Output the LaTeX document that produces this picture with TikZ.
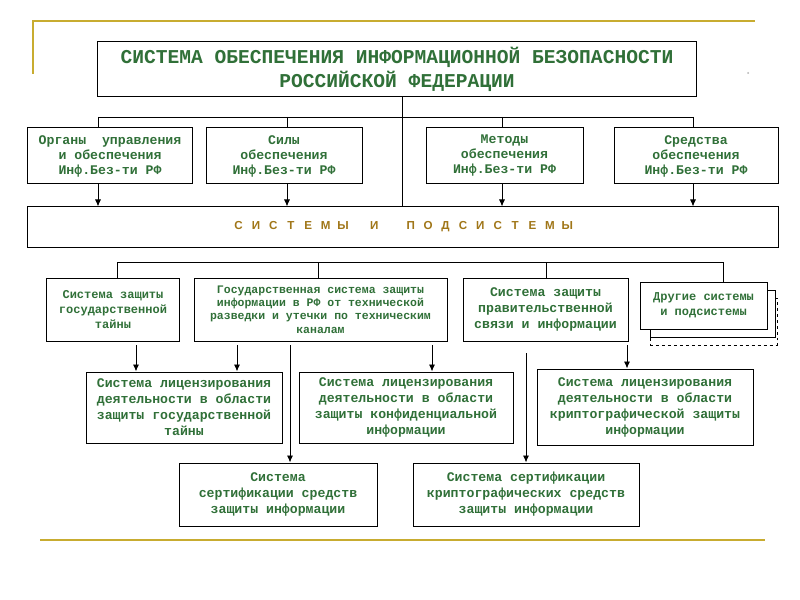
\documentclass[tikz,border=0pt]{standalone}
\usepackage{fontspec}
\setmonofont{Liberation Mono}
\setsansfont{Liberation Sans}
\usetikzlibrary{arrows.meta, positioning}
\definecolor{slideGold}{RGB}{200, 172, 48}
\definecolor{boxGreen}{RGB}{48, 112, 56}
\definecolor{sysBrown}{RGB}{160, 118, 24}
\def\titlefont{\ttfamily\bfseries\fontsize{19.6bp}{24bp}\selectfont}
\def\bodyfont{\ttfamily\bfseries\fontsize{13.2bp}{16bp}\selectfont}
\def\rowfont{\ttfamily\bfseries\fontsize{13.2bp}{15bp}\selectfont}
\def\smallfont{\ttfamily\bfseries\fontsize{12bp}{15bp}\selectfont}
\def\tinyfont{\ttfamily\bfseries\fontsize{11.5bp}{13.4bp}\selectfont}
\def\sysletter#1{\makebox[17.4bp]{#1}}
\tikzset{
    frame/.style={draw=black, line width=1bp, fill=white, inner sep=0pt, align=center, text=boxGreen},
    link/.style={draw=black, line width=0.9bp},
    arrow/.style={link, -{Latex[length=7bp,width=6bp]}},
    goldline/.style={draw=slideGold, line width=2.8bp}
}

\begin{document}
\begin{tikzpicture}[x=1bp, y=-1bp]
    % Draw the page and the slide rules
    \fill[white] (0,0) rectangle (800,600);
    \useasboundingbox (0,0) rectangle (800,600);
    \draw[goldline] (33,74) -- (33,21) -- (755,21);
    \draw[goldline] (40,540) -- (765,540);
    \fill[gray!60] (748,73) circle (1bp);

    % Top of the tree
    \node[frame, font=\titlefont, minimum width=598bp, minimum height=55bp] (title) at (397,69.5)
        {СИСТЕМА ОБЕСПЕЧЕНИЯ ИНФОРМАЦИОННОЙ БЕЗОПАСНОСТИ\\РОССИЙСКОЙ ФЕДЕРАЦИИ};

    \node[frame, font=\rowfont, minimum width=164bp, minimum height=56bp] (org) at (110,156)
        {Органы~~управления\\и обеспечения\\Инф.Без-ти РФ};
    \node[frame, font=\rowfont, minimum width=156bp, minimum height=56bp] (sily) at (284,156)
        {Силы\\обеспечения\\Инф.Без-ти РФ};
    \node[frame, font=\rowfont, minimum width=157bp, minimum height=56bp] (metody) at (504.5,156)
        {Методы\\обеспечения\\Инф.Без-ти РФ};
    \node[frame, font=\rowfont, minimum width=164bp, minimum height=56bp] (sredstva) at (696,156)
        {Средства\\обеспечения\\Инф.Без-ти РФ};

    \node[frame, text=sysBrown, font=\sffamily\bfseries\fontsize{11.6bp}{13bp}\selectfont,
          minimum width=750bp, minimum height=40bp] (sys) at (403,227)
        {\sysletter{С}\sysletter{И}\sysletter{С}\sysletter{Т}\sysletter{Е}\sysletter{М}\sysletter{Ы}\hspace{14bp}%
         \sysletter{И}\hspace{19bp}%
         \sysletter{П}\sysletter{О}\sysletter{Д}\sysletter{С}\sysletter{И}\sysletter{С}\sysletter{Т}\sysletter{Е}\sysletter{М}\sysletter{Ы}};

    % Bus between the title and the systems
    \coordinate (trunk) at (402,117);
    \coordinate (bus1) at (98,117);
    \coordinate (bus2) at (287,117);
    \coordinate (bus3) at (502,117);
    \coordinate (bus4) at (693,117);
    \draw[link] (title.south -| trunk) -- (sys.north -| trunk);
    \draw[link] (bus1) -- (bus4);
    \foreach \b/\n in {bus1/org, bus2/sily, bus3/metody, bus4/sredstva} {
        \draw[link] (\b) -- (\b |- \n.north);
        \draw[arrow] (\b |- \n.south) -- (\b |- sys.north);
    }

    % Systems and subsystems
    \node[frame, font=\smallfont, minimum width=132bp, minimum height=63bp] (gostayna) at (113,309.5)
        {Система защиты\\государственной\\тайны};
    \node[frame, font=\tinyfont, minimum width=253bp, minimum height=63bp] (gostex) at (320.5,309.5)
        {Государственная система защиты\\информации в РФ от технической\\разведки и утечки по техническим\\каналам};
    \node[frame, font=\bodyfont, minimum width=165bp, minimum height=63bp] (pravsvyaz) at (545.5,309.5)
        {Система защиты\\правительственной\\связи и информации};
    \node[frame, dashed, minimum width=127bp, minimum height=47bp] (drugieC) at (713.5,321.5) {};
    \node[frame, minimum width=125bp, minimum height=47bp] (drugieB) at (712.5,313.5) {};
    \node[frame, font=\smallfont, minimum width=127bp, minimum height=47bp] (drugie) at (703.5,305.5)
        {Другие системы\\и подсистемы};

    \coordinate (sub1) at (117,262);
    \coordinate (sub2) at (318,262);
    \coordinate (sub3) at (546,262);
    \coordinate (sub4) at (723,262);
    \draw[link] (sub1) -- (sub4);
    \foreach \b/\n in {sub1/gostayna, sub2/gostex, sub3/pravsvyaz, sub4/drugie}
        \draw[link] (\b) -- (\b |- \n.north);

    % Licensing and certification
    \node[frame, font=\bodyfont, minimum width=196bp, minimum height=71bp] (litsGT) at (184,407.5)
        {Система лицензирования\\деятельности в области\\защиты государственной\\тайны};
    \node[frame, font=\bodyfont, minimum width=214bp, minimum height=71bp] (litsKonf) at (406,407.5)
        {Система лицензирования\\деятельности в области\\защиты конфиденциальной\\информации};
    \node[frame, font=\bodyfont, minimum width=216bp, minimum height=76bp] (litsKript) at (645,407)
        {Система лицензирования\\деятельности в области\\криптографической защиты\\информации};
    \node[frame, font=\bodyfont, minimum width=198bp, minimum height=63bp] (sertSZI) at (278,494.5)
        {Система\\сертификации средств\\защиты информации};
    \node[frame, font=\bodyfont, minimum width=226bp, minimum height=63bp] (sertKript) at (526,494.5)
        {Система сертификации\\криптографических средств\\защиты информации};

    \coordinate (d1) at (136,345);
    \coordinate (d2) at (237,345);
    \coordinate (d3) at (290,345);
    \coordinate (d4) at (432,345);
    \coordinate (d5) at (526,353);
    \coordinate (d6) at (627,345);
    \foreach \d/\n in {d1/litsGT, d2/litsGT, d3/sertSZI, d4/litsKonf, d5/sertKript, d6/litsKript}
        \draw[arrow] (\d) -- (\d |- \n.north);
\end{tikzpicture}
\end{document}
